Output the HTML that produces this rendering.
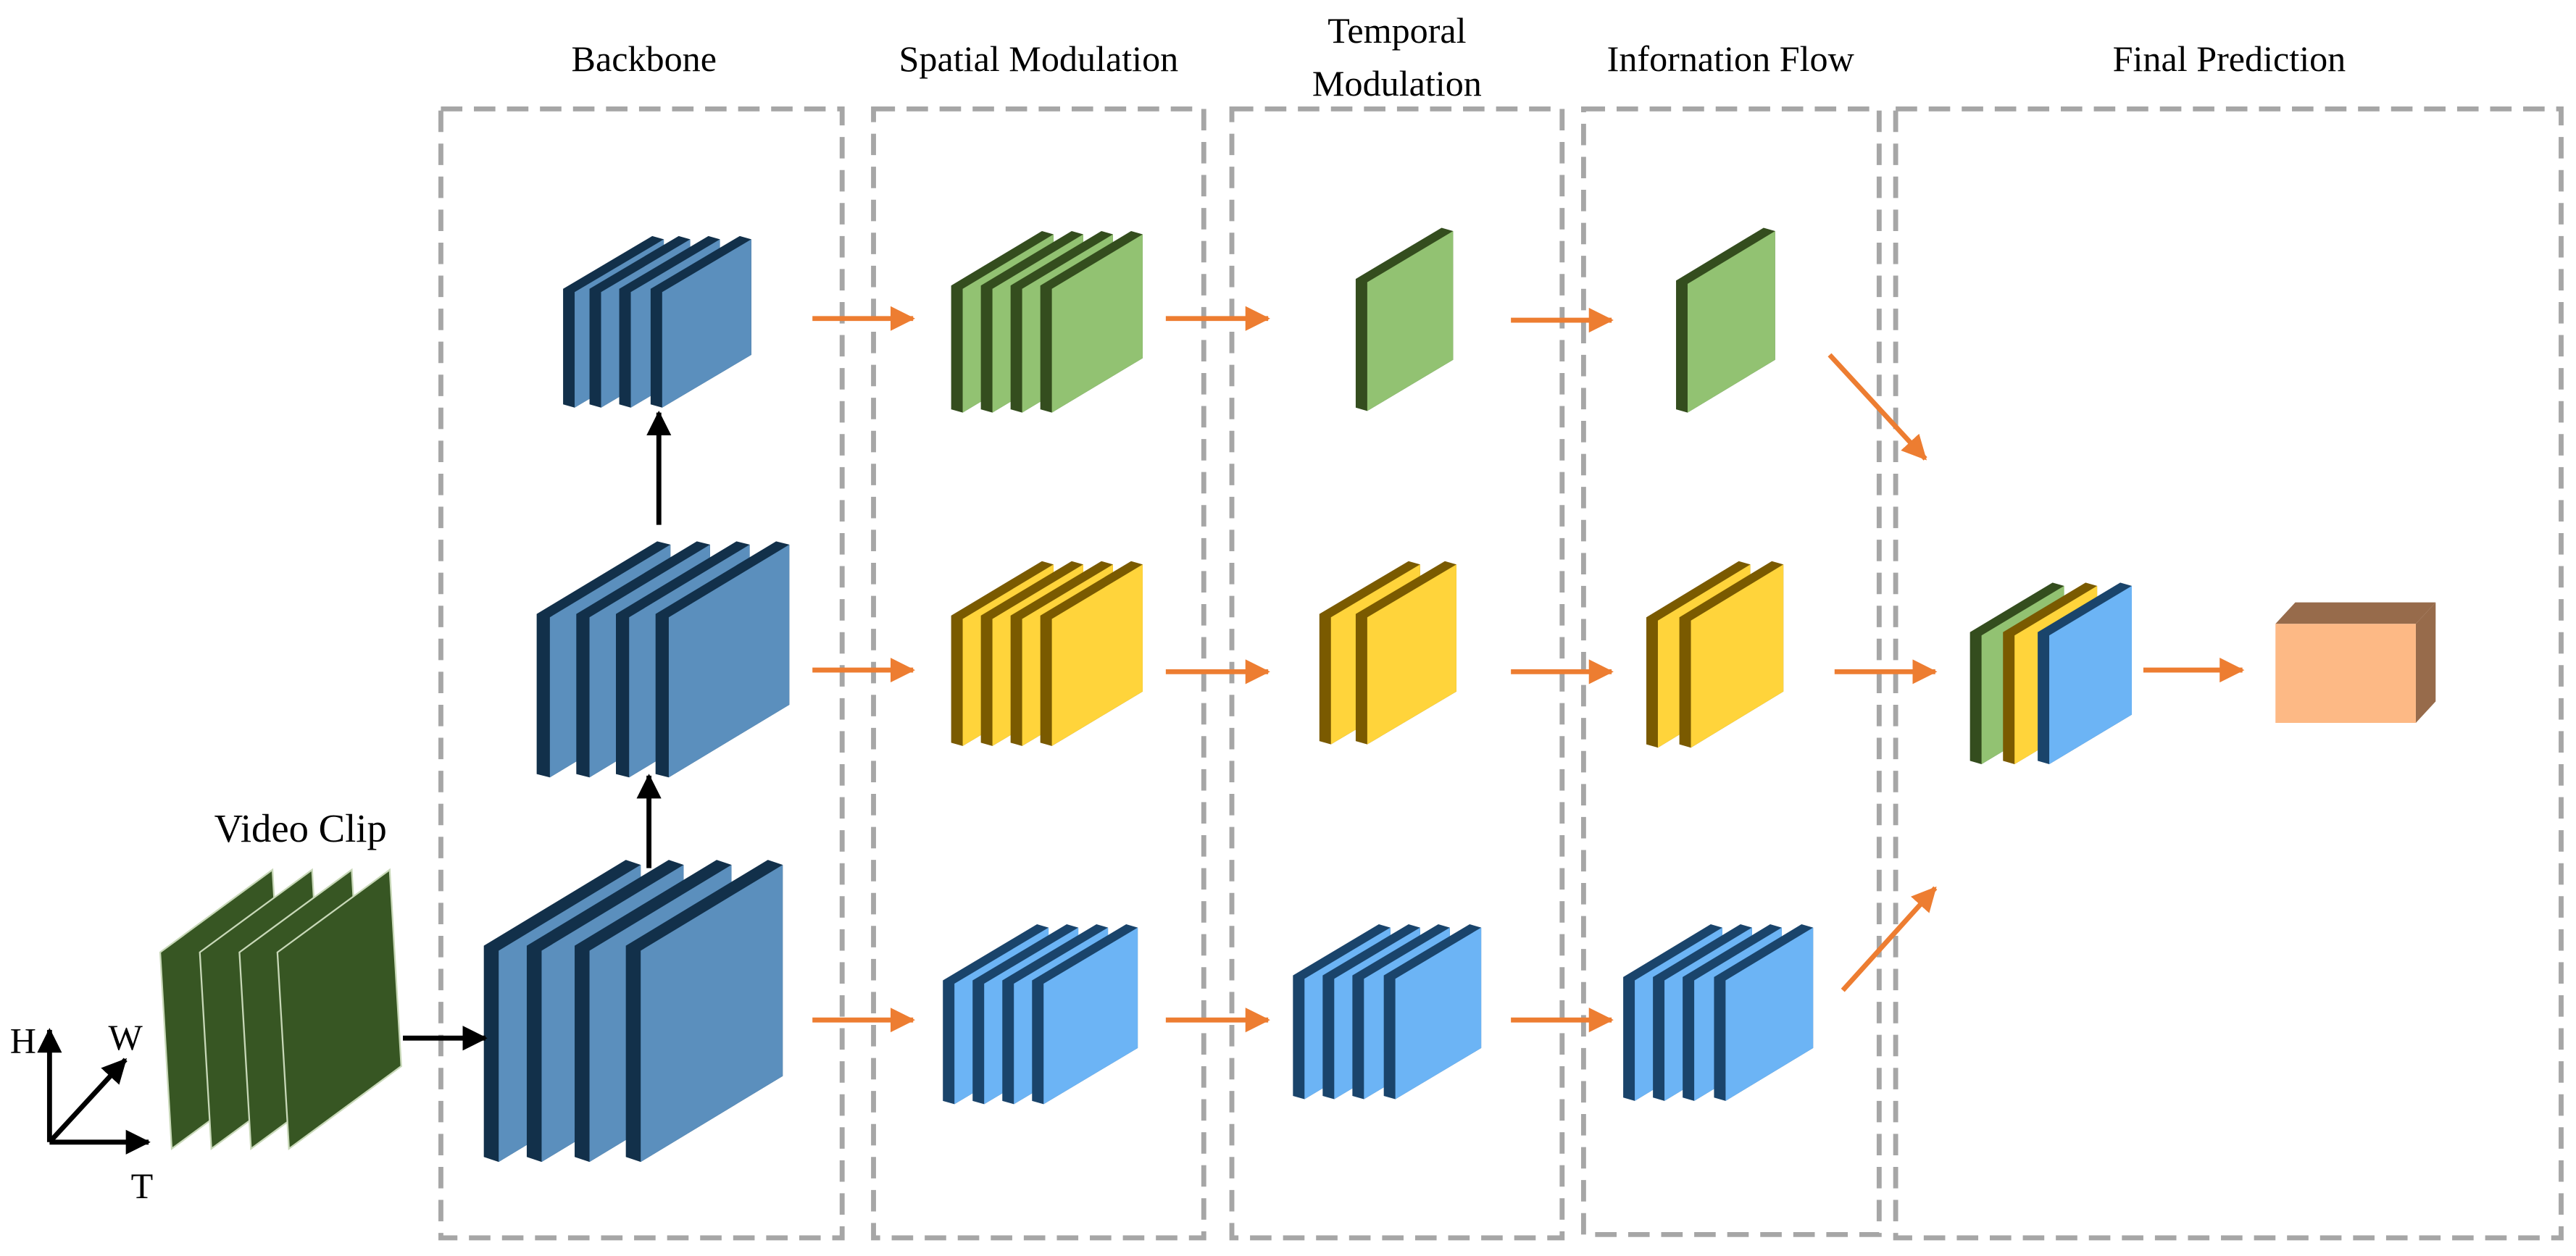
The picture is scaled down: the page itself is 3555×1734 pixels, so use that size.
<!DOCTYPE html>
<html><head><meta charset="utf-8"><style>
html,body{margin:0;padding:0;background:#fff;}
svg{display:block;}
text{font-family:"Liberation Serif",serif;fill:#000;}
</style></head><body>
<svg id="s" width="3555" height="1734" viewBox="0 0 1560 761" preserveAspectRatio="none" xmlns="http://www.w3.org/2000/svg">
<defs>
<marker id="oa" markerWidth="5" markerHeight="5" refX="4.6" refY="2.5" orient="auto" markerUnits="strokeWidth"><path d="M0,0 L5,2.5 L0,5 z" fill="#ed7d31"/></marker>
<marker id="ba" markerWidth="5" markerHeight="5" refX="4.6" refY="2.5" orient="auto" markerUnits="strokeWidth"><path d="M0,0 L5,2.5 L0,5 z" fill="#000"/></marker>
</defs>
<g fill="none" stroke="#a6a6a6" stroke-width="3" stroke-dasharray="13,7">
<rect x="267" y="66" width="243" height="684"/>
<rect x="529" y="66" width="200" height="684"/>
<rect x="746" y="66" width="200" height="684"/>
<rect x="959" y="66" width="179" height="682"/>
<rect x="1148" y="66" width="403" height="684"/>
</g>
<g font-size="22" text-anchor="middle">
<text x="390" y="43">Backbone</text>
<text x="629" y="43">Spatial Modulation</text>
<text x="846" y="26">Temporal</text>
<text x="846" y="58">Modulation</text>
<text x="1048" y="43">Infornation Flow</text>
<text x="1350" y="43">Final Prediction</text>
<text x="182" y="510" font-size="24">Video Clip</text>
<text x="14" y="638">H</text>
<text x="76" y="636">W</text>
<text x="86" y="726">T</text>
</g>
<g id="stk"></g>
<g stroke="#ed7d31" stroke-width="3" marker-end="url(#oa)">
<line x1="492" y1="193" x2="553" y2="193"/><line x1="706" y1="193" x2="768" y2="193"/><line x1="915" y1="194" x2="976" y2="194"/>
<line x1="492" y1="406" x2="553" y2="406"/><line x1="706" y1="407" x2="768" y2="407"/><line x1="915" y1="407" x2="976" y2="407"/>
<line x1="1111" y1="407" x2="1172" y2="407"/><line x1="1298" y1="406" x2="1358" y2="406"/>
<line x1="492" y1="618" x2="553" y2="618"/><line x1="706" y1="618" x2="768" y2="618"/><line x1="915" y1="618" x2="976" y2="618"/>
<line x1="1108" y1="215" x2="1166" y2="278"/><line x1="1116" y1="600" x2="1172" y2="538"/>
</g>
<g stroke="#000" stroke-width="3" marker-end="url(#ba)">
<line x1="244" y1="629" x2="294" y2="629"/>
<line x1="393" y1="526" x2="393" y2="470"/>
<line x1="399" y1="318" x2="399" y2="250"/>
<line x1="30" y1="692" x2="30" y2="624"/>
<line x1="30" y1="692" x2="76" y2="642"/>
<line x1="30" y1="692" x2="90" y2="692"/>
</g>
<g fill="#375623" stroke="#c8d8b8" stroke-width="1">
<polygon points="97,577 165,527 172,646 104,696"/>
<polygon points="121,577 189,527 196,646 128,696"/>
<polygon points="145,577 213,527 220,646 152,696"/>
<polygon points="168,577 236,527 243,646 175,696"/>
</g>
<g>
<polygon points="1378,378 1390,365 1475,365 1463,378" fill="#976b4b"/>
<polygon points="1463,378 1475,365 1475,425 1463,438" fill="#976b4b"/>
<rect x="1378" y="378" width="85" height="60" fill="#fdb985"/>
</g>
</svg>
<script>
var NS="http://www.w3.org/2000/svg",g=document.getElementById("stk");
var C={b:["#5b8fbd","#12304a"],g:["#92c272","#344d1e"],y:["#ffd43b","#7a5a00"],l:["#6cb4f5","#1a446b"]};
function poly(p,f){var e=document.createElementNS(NS,"polygon");e.setAttribute("points",p.map(function(a){return a.join(",")}).join(" "));e.setAttribute("fill",f);g.appendChild(e);}
function slab(x,yr,w,sk,h,col,t,d){
 var yl=yr+sk;
 poly([[x-t,yl-d],[x+w-t,yr-d],[x+w,yr],[x+w,yr+h],[x,yl+h],[x-t,yl+h-d]],col[1]);
 poly([[x,yl],[x+w,yr],[x+w,yr+h],[x,yl+h]],col[0]);
}
function stack(lefts,top,w,h,cols,t,d){
 var sk=Math.round(w*0.6);
 for(var i=0;i<lefts.length;i++){
  slab(lefts[i],top,w,sk,h,C[cols[i]||cols[0]],t||7,d||2);
 }
}
stack([348,364,382,401],145,54,70,["b"]);
stack([333,357,381,405],330,73,97,["b"],8,2);
stack([302,328,357,388],524,86,128,["b"],9,3);
stack([583,601,619,637],142,55,75,["g"]);
stack([583,601,619,637],342,55,77,["y"]);
stack([578,596,614,632],562,57,73,["l"]);
stack([828],140,52,78,["g"]);
stack([806,828],342,54,77,["y"]);
stack([790,808,826,845],562,52,73,["l"]);
stack([1022],140,53,78,["g"]);
stack([1004,1024],342,56,77,["y"]);
stack([990,1008,1026,1045],562,53,73,["l"]);
stack([1200,1220,1241],355,50,78,["g","y","l"]);
</script>
</body></html>
